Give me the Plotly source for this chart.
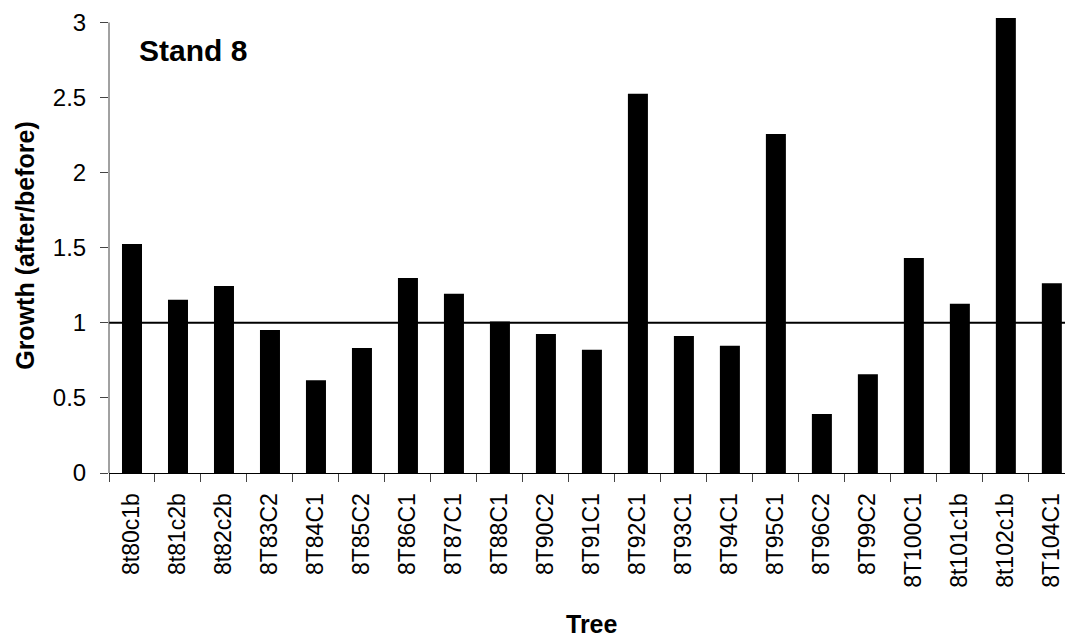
import plotly.graph_objects as go

trees = ["8t80c1b", "8t81c2b", "8t82c2b", "8T83C2", "8T84C1", "8T85C2", "8T86C1",
         "8T87C1", "8T88C1", "8T90C2", "8T91C1", "8T92C1", "8T93C1", "8T94C1",
         "8T95C1", "8T96C2", "8T99C2", "8T100C1", "8t101c1b", "8t102c1b", "8T104C1"]
growth = [1.525, 1.153, 1.245, 0.953, 0.618, 0.833, 1.298,
          1.193, 1.009, 0.925, 0.820, 2.525, 0.913, 0.847,
          2.258, 0.393, 0.658, 1.431, 1.127, 3.030, 1.263]
y_ticks = [0, 0.5, 1, 1.5, 2, 2.5, 3]
y_tick_text = ["0", "0.5", "1", "1.5", "2", "2.5", "3"]
reference_level = 1.0

# page body has an 8px default margin; compensate so the figure fills the window
W, H = 1065, 631
ML, MT, MB, MR = 100.7, 10, 166.3, 0

fig = go.Figure()
fig.add_trace(go.Bar(x=trees, y=growth, marker=dict(color="black", line=dict(width=0)),
                     showlegend=False))

fig.update_layout(
    width=W, height=H,
    margin=dict(l=ML, r=MR, t=MT, b=MB, autoexpand=False),
    paper_bgcolor="white", plot_bgcolor="white",
    bargap=0.565,
    font=dict(family="Liberation Sans, Arial, sans-serif", color="black"),
    xaxis=dict(
        type="category", range=[-0.5, 20.46], showgrid=False, zeroline=False,
        showline=True, linecolor="black", linewidth=1,
        ticks="outside", tickson="boundaries", ticklen=8, tickcolor="#444", tickwidth=1,
        tickangle=-90, tickfont=dict(size=23), ticklabelstandoff=10,
    ),
    yaxis=dict(
        range=[0, 3.03], showgrid=False, zeroline=False, showline=False,
        tickvals=y_ticks, ticktext=y_tick_text,
        ticks="outside", ticklen=8, tickcolor="#444", tickwidth=1,
        tickfont=dict(size=24), ticklabelstandoff=9,
    ),
    shapes=[
        dict(type="line", xref="paper", yref="y", x0=0, x1=1,
             y0=reference_level, y1=reference_level, line=dict(color="black", width=2)),
        dict(type="line", xref="paper", yref="y", x0=0, x1=0,
             y0=0, y1=3, line=dict(color="#444", width=1)),
    ],
    annotations=[
        dict(text="<b>Stand 8</b>", xref="paper", yref="paper", x=0, y=1,
             xanchor="left", yanchor="middle", xshift=28, yshift=-32,
             showarrow=False, font=dict(size=30)),
        dict(text="<b>Growth (after/before)</b>", xref="paper", yref="paper", x=0, y=0.5,
             xanchor="center", yanchor="middle", xshift=-(ML + 8) + 24, textangle=-90,
             showarrow=False, font=dict(size=25)),
        dict(text="<b>Tree</b>", xref="x", yref="paper", x=10, y=0,
             xanchor="center", yanchor="middle", yshift=-(624 - 472.7),
             showarrow=False, font=dict(size=25)),
    ],
)

fig.write_html("out.html")
